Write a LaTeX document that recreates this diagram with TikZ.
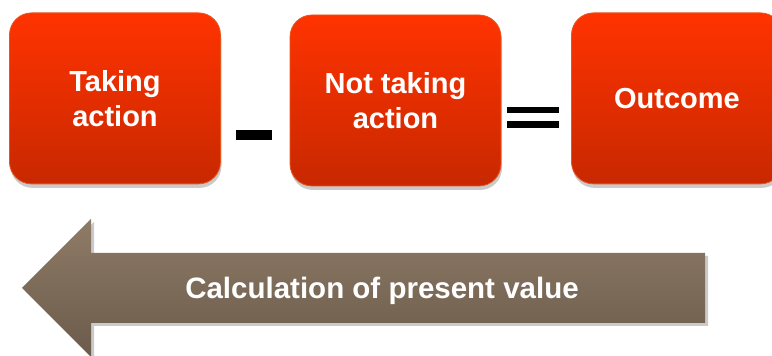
\documentclass[tikz,border=0pt]{standalone}
\usepackage{fontspec}
\setmainfont{Liberation Sans}
\usetikzlibrary{shadows}
\definecolor{boxtop}{HTML}{FF3300}
\definecolor{boxbot}{HTML}{C82800}
\definecolor{boxline}{HTML}{E8561E}
\definecolor{arrtop}{HTML}{8E7B67}
\definecolor{arrbot}{HTML}{6C5B4B}
\tikzset{
  actbox/.style={rectangle, rounded corners=22pt, minimum width=211pt, minimum height=171pt,
    top color=boxtop, bottom color=boxbot, draw=boxline, line width=0.8pt,
    text=white, align=center, font=\fontsize{29}{35}\selectfont\bfseries,
    drop shadow={shadow xshift=1pt, shadow yshift=-4pt, fill=black!35, opacity=0.6}},
  opbar/.style={fill=black, inner sep=0pt}
}
\begin{document}
\begin{tikzpicture}
\useasboundingbox (0pt,0pt) rectangle (772pt,356pt);
\draw (115pt,257.6pt) node (taking) [actbox] {Taking\\action};
\draw (395.5pt,255.5pt) node (nottaking) [actbox] {Not taking\\action};
\draw (677pt,257.6pt) node (outcome) [actbox] {Outcome};

\draw (254pt,221pt) node (minus) [opbar, minimum width=36pt, minimum height=10pt] {};
\draw (533pt,246pt) node (eqtop) [opbar, minimum width=52pt, minimum height=6.5pt] {};
\draw (533pt,231.5pt) node (eqbot) [opbar, minimum width=52pt, minimum height=6.5pt] {};

\path [top color=arrtop, bottom color=arrbot,
  drop shadow={shadow xshift=3pt, shadow yshift=-3pt, fill=black!35, opacity=0.6}]
  (705pt,103pt) -- (91pt,103pt) -- (91pt,137pt) -- (22pt,68pt) -- (91pt,-1pt)
  -- (91pt,33pt) -- (705pt,33pt) -- cycle;
\draw (382pt,65pt) node (pvtext) [text=white, font=\fontsize{29.5}{34}\selectfont\bfseries] {Calculation of present value};
\end{tikzpicture}
\end{document}
